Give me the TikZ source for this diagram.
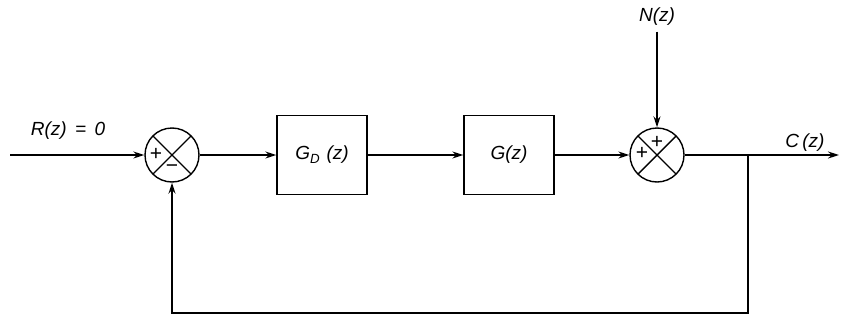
\documentclass[tikz,border=0pt]{standalone}
\usepackage{fontspec}
\setmainfont{Liberation Sans}
\usetikzlibrary{arrows.meta}
\begin{document}
\begin{tikzpicture}[x=1pt,y=-1pt,
  line width=1.4pt,
  arr/.style={-{Stealth[length=11pt,width=7pt]}},
  sumj/.style={draw,circle,minimum size=54pt,inner sep=0pt,
    path picture={\draw (path picture bounding box.north west)--(path picture bounding box.south east)
                        (path picture bounding box.north east)--(path picture bounding box.south west);}},
  blk/.style={draw,rectangle,minimum width=90pt,minimum height=79pt,inner sep=0pt,font=\fontsize{19}{22}\selectfont\itshape},
  lbl/.style={font=\fontsize{19}{22}\selectfont\itshape,inner sep=1pt},
  sgn/.style={font=\fontsize{21}{22}\selectfont,inner sep=0pt}]
\useasboundingbox (0,0) rectangle (845,324);
% nodes
\coordinate (in) at (10,155);
\node[sumj] (s1) at (172,155) {};
\node[blk] (gd) at (322,155) {G\textsubscript{D}\,\,(z)};
\node[blk] (g) at (509,155) {G(z)};
\node[sumj] (s2) at (657,155) {};
\coordinate (br) at (748,155);
\coordinate (out) at (839,155);
\coordinate (bot) at (748,313);
\node[lbl] (nlab) at (657,17) {N(z)};
\node[lbl] (rlab) at (68,131) {R(z)\, =\, 0};
\node[lbl] (clab) at (805,143) {C\,(z)};
% signs
\node[sgn] (s1p) at ([shift={(-16,-1)}]s1.center) {+};
\node[sgn] (s1m) at ([shift={(0,14)}]s1.center) {−};
\node[sgn] (s2t) at ([shift={(0,-13)}]s2.center) {+};
\node[sgn] (s2l) at ([shift={(-15,-2)}]s2.center) {+};
% connectors
\draw[arr] (in) -- (s1.west);
\draw[arr] (s1.east) -- (gd.west);
\draw[arr] (gd.east) -- (g.west);
\draw[arr] (g.east) -- (s2.west);
\draw[arr] (nlab.south) ++(0,4) -- (s2.north);
\draw[arr] (s2.east) -- (out);
\draw[arr] (br) -- (bot) -| (s1.south);
\end{tikzpicture}
\end{document}
